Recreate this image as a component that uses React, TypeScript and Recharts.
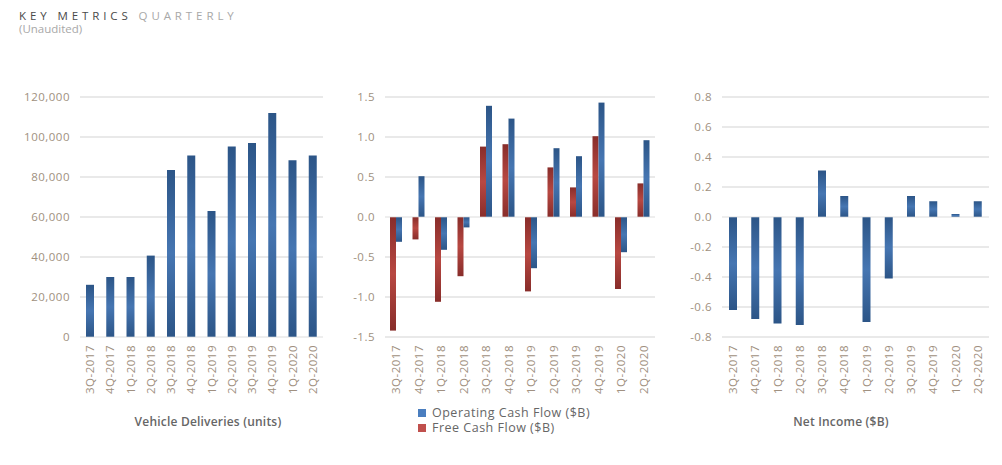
import React from "react";
import { BarChart, Bar, XAxis, YAxis, CartesianGrid, ReferenceLine } from "recharts";

// quarterly key metrics
const quarters = ["3Q-2017", "4Q-2017", "1Q-2018", "2Q-2018", "3Q-2018", "4Q-2018", "1Q-2019", "2Q-2019", "3Q-2019", "4Q-2019", "1Q-2020", "2Q-2020"];
const deliveries = [26100, 30000, 30000, 40700, 83500, 90700, 63000, 95200, 97000, 112000, 88400, 90700];
const operatingCashFlow = [-0.31, 0.51, -0.41, -0.13, 1.39, 1.23, -0.64, 0.86, 0.76, 1.43, -0.44, 0.96];
const freeCashFlow = [-1.42, -0.28, -1.06, -0.74, 0.88, 0.91, -0.93, 0.62, 0.37, 1.01, -0.9, 0.42];
const netIncome = [-0.62, -0.68, -0.71, -0.72, 0.31, 0.14, -0.7, -0.41, 0.14, 0.105, 0.02, 0.105];

const deliveryTicks = [0, 20000, 40000, 60000, 80000, 100000, 120000];
const cashTicks = [-1.5, -1, -0.5, 0, 0.5, 1, 1.5];
const incomeTicks = [-0.8, -0.6, -0.4, -0.2, 0, 0.2, 0.4, 0.6, 0.8];

const deliveryRows = quarters.map((q, i) => ({ quarter: q, deliveries: deliveries[i] }));
const cashRows = quarters.map((q, i) => ({ quarter: q, fcf: freeCashFlow[i], ocf: operatingCashFlow[i] }));
const incomeRows = quarters.map((q, i) => ({ quarter: q, income: netIncome[i] }));

const FONT = '"Open Sans", sans-serif';
const TICK_COLOR = "#a09080";
const GRID_COLOR = "#e2e2e2";

const QuarterTick = (props: any) => {
    const { x, y, payload } = props;
    return (
        <text
            transform={`translate(${x},${y}) rotate(-90)`}
            textAnchor="end"
            dy="0.35em"
            fill={TICK_COLOR}
            fontSize={11.5}
            fontFamily={FONT}
            letterSpacing={0.5}
        >
            {payload.value}
        </text>
    );
};

const tickStyle = { fill: TICK_COLOR, fontSize: 11.5, fontFamily: FONT, letterSpacing: 0.5 };

const renderChart = (
    left: number,
    width: number,
    axisWidth: number,
    rightGap: number,
    data: any[],
    domain: [number, number],
    ticks: number[],
    fmt: (v: number) => string,
    bars: { key: string; fill: string }[],
    barSize: number
) => (
    <div style={{ position: "absolute", left, top: 0 }}>
        <BarChart
            width={width}
            height={400}
            data={data}
            margin={{ top: 97, right: rightGap, bottom: 0, left: 0 }}
            barGap={0}
        >
            <CartesianGrid vertical={false} stroke={GRID_COLOR} strokeWidth={1.5} />
            <XAxis
                dataKey="quarter"
                height={63}
                axisLine={false}
                tickLine={false}
                tickSize={0}
                tickMargin={8}
                interval={0}
                tick={<QuarterTick />}
            />
            <YAxis
                width={axisWidth}
                domain={domain}
                ticks={ticks}
                axisLine={false}
                tickLine={false}
                tickSize={0}
                tickMargin={10}
                tickFormatter={fmt}
                tick={tickStyle}
            />
            {bars.map((b) => (
                <Bar key={b.key} dataKey={b.key} fill={b.fill} barSize={barSize} isAnimationActive={false} />
            ))}
            <ReferenceLine y={0} stroke="#ffffff" strokeOpacity={0.35} strokeWidth={1.5} />
        </BarChart>
    </div>
);

export default function App() {
    return (
        <div style={{ position: "absolute", left: 0, top: 0, width: 1002, height: 465, background: "#fff", fontFamily: FONT }}>
            <svg width={0} height={0} style={{ position: "absolute" }}>
                <defs>
                    <linearGradient id="blueGrad" x1="0" y1="0" x2="0" y2="1">
                        <stop offset="0%" stopColor="#2c5587" />
                        <stop offset="50%" stopColor="#4676b2" />
                        <stop offset="100%" stopColor="#2c5587" />
                    </linearGradient>
                    <linearGradient id="redGrad" x1="0" y1="0" x2="0" y2="1">
                        <stop offset="0%" stopColor="#882d2a" />
                        <stop offset="50%" stopColor="#b84842" />
                        <stop offset="100%" stopColor="#882d2a" />
                    </linearGradient>
                </defs>
            </svg>

            <div style={{ position: "absolute", left: 19, top: 8, fontSize: 11.5, letterSpacing: 3.9, whiteSpace: "nowrap" }}>
                <span style={{ color: "#4a4a4a" }}>KEY METRICS </span>
                <span style={{ color: "#a8a8a8" }}>QUARTERLY</span>
            </div>
            <div style={{ position: "absolute", left: 19, top: 21, fontSize: 11.5, color: "#a8a8a8" }}>(Unaudited)</div>

            {renderChart(0, 340, 80, 17, deliveryRows, [0, 120000], deliveryTicks, (v) => v.toLocaleString("en-US"), [{ key: "deliveries", fill: "url(#blueGrad)" }], 8)}
            {renderChart(300, 360, 85, 5, cashRows, [-1.5, 1.5], cashTicks, (v) => v.toFixed(1), [
                { key: "fcf", fill: "url(#redGrad)" },
                { key: "ocf", fill: "url(#blueGrad)" },
            ], 6)}
            {renderChart(640, 362, 82, 13, incomeRows, [-0.8, 0.8], incomeTicks, (v) => v.toFixed(1), [{ key: "income", fill: "url(#blueGrad)" }], 8)}

            <div style={{ position: "absolute", left: 80, width: 256, top: 413, textAlign: "center", fontSize: 12, fontWeight: 600, color: "#666", letterSpacing: 0.2 }}>
                Vehicle Deliveries (units)
            </div>
            <div style={{ position: "absolute", left: 713, width: 256, top: 413, textAlign: "center", fontSize: 12, fontWeight: 600, color: "#666", letterSpacing: 0.2 }}>
                Net Income ($B)
            </div>

            <div style={{ position: "absolute", left: 418, top: 404, fontSize: 12.5, color: "#666", lineHeight: "17px", letterSpacing: 0.5 }}>
                <div style={{ display: "flex", alignItems: "center" }}>
                    <span style={{ width: 8, height: 8, background: "#4a7ebf", marginRight: 6, display: "inline-block" }} />
                    Operating Cash Flow ($B)
                </div>
                <div style={{ display: "flex", alignItems: "center", marginTop: -2 }}>
                    <span style={{ width: 8, height: 8, background: "#c0504d", marginRight: 6, display: "inline-block" }} />
                    Free Cash Flow ($B)
                </div>
            </div>
        </div>
    );
}
